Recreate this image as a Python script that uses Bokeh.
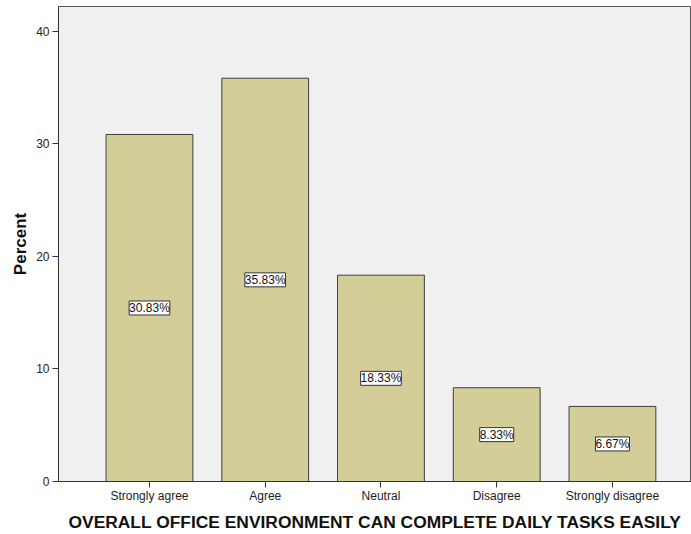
from bokeh.plotting import figure
from bokeh.models import ColumnDataSource, Range1d, FixedTicker, LabelSet
from bokeh.core.properties import value
from bokeh.embed import file_html
from bokeh.resources import INLINE

categories = ["Strongly agree", "Agree", "Neutral", "Disagree", "Strongly disagree"]
percent = [30.83, 35.83, 18.33, 8.33, 6.67]
y_ticks = [0, 10, 20, 30, 40]
x_title = "OVERALL OFFICE ENVIRONMENT CAN COMPLETE DAILY TASKS EASILY"
y_title = "Percent"

idx = list(range(len(categories)))
labels = [f"{v:.2f}%" for v in percent]
src = ColumnDataSource(dict(x=idx, top=percent, mid=[v / 2 for v in percent], lab=labels))

FONT = "Liberation Sans"

p = figure(width=691, height=534, output_backend="svg", toolbar_location=None,
           x_range=Range1d(-0.786, 4.683), y_range=Range1d(0, 42.2),
           min_border_left=58, min_border_right=0, min_border_top=6, min_border_bottom=52)

p.background_fill_color = "#F0F0F0"
p.border_fill_color = "white"
p.outline_line_color = "#555555"
p.outline_line_width = 1
p.xgrid.visible = False
p.ygrid.visible = False

p.vbar(x="x", top="top", width=0.75, bottom=0, source=src,
       fill_color="#D3CE98", line_color="#3F3F3F", line_width=1)

lab_kwargs = dict(x="x", y="mid", text="lab", source=src,
                  text_align="center", text_baseline="middle",
                  text_font=value(FONT), text_font_size=value("12px"), text_color="#111111",
                  background_fill_color="white", border_line_color="#333333",
                  border_line_width=1)
if "padding" in LabelSet.properties():
    lab_kwargs["padding"] = 1
p.add_layout(LabelSet(**lab_kwargs))

# x axis
p.xaxis.ticker = FixedTicker(ticks=idx)
p.xaxis.major_label_overrides = {i: c for i, c in zip(idx, categories)}
p.xaxis.minor_tick_line_color = None
p.xaxis.major_tick_out = 6
p.xaxis.major_tick_in = 0
p.xaxis.major_label_standoff = 1
p.xaxis.major_label_text_font = FONT
p.xaxis.major_label_text_font_size = "12px"
p.xaxis.major_label_text_color = "#222222"
p.xaxis.axis_line_color = "#333333"
p.xaxis.major_tick_line_color = "#333333"
p.xaxis.axis_label = x_title
p.xaxis.axis_label_text_font = FONT
p.xaxis.axis_label_text_font_style = "bold"
p.xaxis.axis_label_text_font_size = "17.4px"
p.xaxis.axis_label_text_color = "#111111"
p.xaxis.axis_label_standoff = 6

# y axis
p.yaxis.ticker = FixedTicker(ticks=y_ticks)
p.yaxis.minor_tick_line_color = None
p.yaxis.major_tick_out = 6
p.yaxis.major_tick_in = 0
p.yaxis.major_label_standoff = 3
p.yaxis.major_label_text_font = FONT
p.yaxis.major_label_text_font_size = "12px"
p.yaxis.major_label_text_color = "#222222"
p.yaxis.axis_line_color = "#333333"
p.yaxis.major_tick_line_color = "#333333"
p.yaxis.axis_label = y_title
p.yaxis.axis_label_text_font = FONT
p.yaxis.axis_label_text_font_style = "bold"
p.yaxis.axis_label_text_font_size = "17px"
p.yaxis.axis_label_text_color = "#111111"
p.yaxis.axis_label_standoff = 3

open("out.html", "w").write(file_html(p, INLINE))
